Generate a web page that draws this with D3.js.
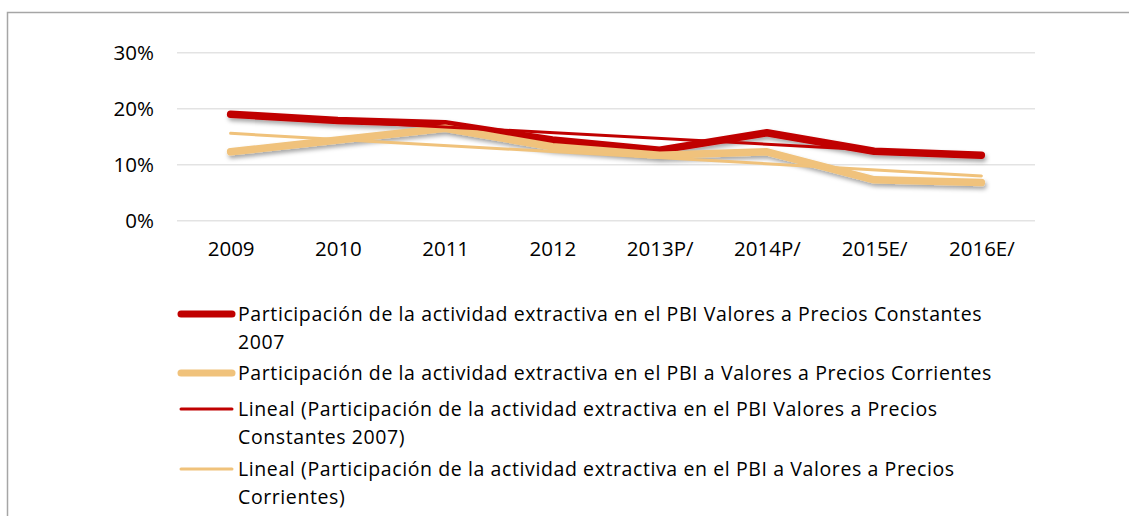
<!DOCTYPE html>
<html>
<head>
<meta charset="utf-8">
<script src="https://cdn.jsdelivr.net/npm/d3@7"></script>
<style>
  body { margin: 0; background: #fff; }
  text { font-family: "Open Sans", "Noto Sans", sans-serif; fill: #000; }
</style>
</head>
<body>
<div id="chart"></div>
<script>
// data
const years = ["2009", "2010", "2011", "2012", "2013P/", "2014P/", "2015E/", "2016E/"];
const constantes = [19.0, 17.9, 17.3, 14.4, 12.6, 15.7, 12.4, 11.7];
const corrientes = [12.3, 14.4, 16.5, 13.2, 11.7, 12.3, 7.3, 6.8];
// linear trend lines, start / end values
const trendConstantes = [18.8, 11.6];
const trendCorrientes = [15.6, 8.0];
const yTicks = [0, 10, 20, 30];

const legendItems = [
  {lines: ["Participación de la actividad extractiva en el PBI Valores a Precios Constantes", "2007"], color: "#C00000", w: 7},
  {lines: ["Participación de la actividad extractiva en el PBI a Valores a Precios Corrientes"], color: "#F0C27B", w: 7},
  {lines: ["Lineal (Participación de la actividad extractiva en el PBI Valores a Precios", "Constantes 2007)"], color: "#C00000", w: 3},
  {lines: ["Lineal (Participación de la actividad extractiva en el PBI a Valores a Precios", "Corrientes)"], color: "#F0C27B", w: 3}
];

const W = 1129, H = 516;

const svg = d3.select("#chart")
  .append("svg")
    .attr("width", W)
    .attr("height", H);

// shadow for the thick series lines
const defs = svg.append("defs");
defs.append("filter")
    .attr("id", "shadow")
    .attr("x", "-10%").attr("y", "-50%")
    .attr("width", "120%").attr("height", "200%")
  .append("feDropShadow")
    .attr("dx", 1.5).attr("dy", 3)
    .attr("stdDeviation", 2)
    .attr("flood-color", "#000")
    .attr("flood-opacity", 0.35);

// chart frame (runs off the right and bottom of the picture)
svg.append("rect")
  .attr("x", 7.5).attr("y", 12.5)
  .attr("width", 1200).attr("height", 600)
  .attr("fill", "none")
  .attr("stroke", "#a6a6a6")
  .attr("stroke-width", 1.5);

const x = d3.scalePoint()
  .domain(years)
  .range([177, 1035])
  .padding(0.5);

const y = d3.scaleLinear()
  .domain([0, 30])
  .range([220.7, 52.7]);

// gridlines
svg.append("g")
  .selectAll("line")
  .data(yTicks)
  .join("line")
    .attr("x1", 177).attr("x2", 1035)
    .attr("y1", d => y(d)).attr("y2", d => y(d))
    .attr("stroke", "#e3e3e3")
    .attr("stroke-width", 1.5);

// y axis labels
const yAxis = svg.append("g")
  .attr("transform", "translate(154,0)")
  .call(d3.axisLeft(y).tickValues(yTicks).tickSize(0).tickPadding(0).tickFormat(d => d + "%"));
yAxis.select(".domain").remove();
yAxis.selectAll("text")
  .attr("font-size", 20.5)
  .attr("font-family", "'Open Sans', sans-serif")
  .attr("fill", "#000");

// x axis labels
const xAxis = svg.append("g")
  .attr("transform", "translate(0,237)")
  .call(d3.axisBottom(x).tickSize(0).tickPadding(0));
xAxis.select(".domain").remove();
xAxis.selectAll("text")
  .attr("dy", "0.95em")
  .attr("font-size", 20.5)
  .attr("font-family", "'Open Sans', sans-serif")
  .attr("fill", "#000");

const line = d3.line()
  .x((d, i) => x(years[i]))
  .y(d => y(d));

const plot = svg.append("g");

plot.append("path")
  .datum(constantes)
  .attr("d", line)
  .attr("fill", "none")
  .attr("stroke", "#C00000")
  .attr("stroke-width", 7.5)
  .attr("stroke-linecap", "round")
  .attr("stroke-linejoin", "round")
  .attr("filter", "url(#shadow)");

plot.append("path")
  .datum(corrientes)
  .attr("d", line)
  .attr("fill", "none")
  .attr("stroke", "#F0C27B")
  .attr("stroke-width", 7.5)
  .attr("stroke-linecap", "round")
  .attr("stroke-linejoin", "round")
  .attr("filter", "url(#shadow)");

// trend lines from first to last category
const trendLine = d3.line()
  .x((d, i) => x(years[i === 0 ? 0 : years.length - 1]))
  .y(d => y(d));

plot.append("path")
  .datum(trendConstantes)
  .attr("d", trendLine)
  .attr("fill", "none")
  .attr("stroke", "#C00000")
  .attr("stroke-width", 3)
  .attr("stroke-linecap", "round");

plot.append("path")
  .datum(trendCorrientes)
  .attr("d", trendLine)
  .attr("fill", "none")
  .attr("stroke", "#F0C27B")
  .attr("stroke-width", 3)
  .attr("stroke-linecap", "round");

// legend
const legendY = [314, 373, 409, 469];
const legend = svg.append("g");

legendItems.forEach((item, i) => {
  const g = legend.append("g").attr("transform", `translate(0,${legendY[i]})`);
  g.append("line")
    .attr("x1", 181).attr("x2", 232)
    .attr("y1", 0).attr("y2", 0)
    .attr("stroke", item.color)
    .attr("stroke-width", item.w)
    .attr("stroke-linecap", "round");
  g.selectAll("text")
    .data(item.lines)
    .join("text")
      .attr("x", 238)
      .attr("y", (d, j) => 7 + j * 28.3)
      .attr("font-size", 19.5)
      .attr("letter-spacing", 0.6)
      .text(d => d);
});
</script>
</body>
</html>
